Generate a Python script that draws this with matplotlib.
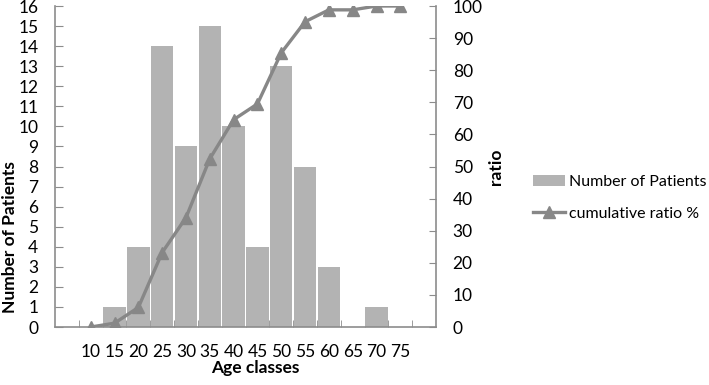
import matplotlib.pyplot as plt
from matplotlib import rcParams

# --- Configuration ---
rcParams['font.family'] = ['Lato', 'DejaVu Sans']
FONT_SIZE = 12.5

# Data
age_classes = ['', '10', '15', '20', '25', '30', '35', '40', '45', '50',
               '55', '60', '65', '70', '75', '']
patients = [0, 1, 4, 14, 9, 15, 10, 4, 13, 8, 3, 0, 1, 0]
cumulative_pct = [0, 1.2, 6.1, 23.2, 34.1, 52.4, 64.6, 69.5, 85.4, 95.1,
                  98.8, 98.8, 100, 100]

BAR_COLOR = '#b3b3b3'
LINE_COLOR = '#878787'
AXIS_COLOR = '#8c8c8c'

fig = plt.figure(figsize=(7.09, 3.85), dpi=100)
ax = fig.add_axes([0.0776, 0.1506, 0.5374, 0.8338])
ax2 = ax.twinx()

# positions: category 0 is the empty slot at the left
pos = list(range(len(age_classes)))
data_pos = pos[1:1 + len(patients)]

bars = ax.bar(data_pos, patients, width=0.94, color=BAR_COLOR,
              label='Number of Patients', zorder=2)
line, = ax2.plot(data_pos, cumulative_pct, color=LINE_COLOR, lw=2.4,
                 marker='^', markersize=8.5, label='cumulative ratio %',
                 zorder=3)

ax.set_xlim(-0.5, len(age_classes) - 0.5)
ax.set_ylim(0, 16)
ax2.set_ylim(0, 100)

ax.set_xticks(pos)
ax.set_xticklabels(age_classes, fontsize=FONT_SIZE)
ax.set_xticks([p + 0.5 for p in pos[:-1]], minor=True)
ax.tick_params(axis='x', which='major', length=0, pad=12)
ax.tick_params(axis='x', which='minor', direction='in', length=5,
               color=AXIS_COLOR)

ax.set_yticks(range(0, 17))
ax.tick_params(axis='y', direction='in', length=6, pad=12,
               labelsize=FONT_SIZE, color=AXIS_COLOR)
ax2.set_yticks(range(0, 101, 10))
ax2.tick_params(axis='y', direction='in', length=5, pad=12,
                labelsize=FONT_SIZE, color=AXIS_COLOR)

for a in (ax, ax2):
    a.spines['top'].set_visible(False)
    for s in ('left', 'right', 'bottom'):
        a.spines[s].set_color(AXIS_COLOR)
        a.spines[s].set_linewidth(1.2)
ax2.spines['left'].set_visible(False)
ax.spines['right'].set_visible(False)
ax2.spines['bottom'].set_visible(False)

fig.text(0.014, 0.384, 'Number of Patients', rotation=90, ha='center',
         va='center', fontsize=FONT_SIZE, fontweight='bold')
fig.text(0.700, 0.566, 'ratio', rotation=90, ha='center', va='center',
         fontsize=FONT_SIZE, fontweight='bold')
fig.text(0.360, 0.044, 'Age classes', ha='center', va='center',
         fontsize=FONT_SIZE, fontweight='bold')

fig.legend(handles=[bars, line], loc='center left',
           bbox_to_anchor=(0.741, 0.486), frameon=False,
           fontsize=11.5, handlelength=2.0, handleheight=0.6,
           handletextpad=0.25, labelspacing=1.1, borderpad=0)

fig.savefig('out.png', dpi=100)
